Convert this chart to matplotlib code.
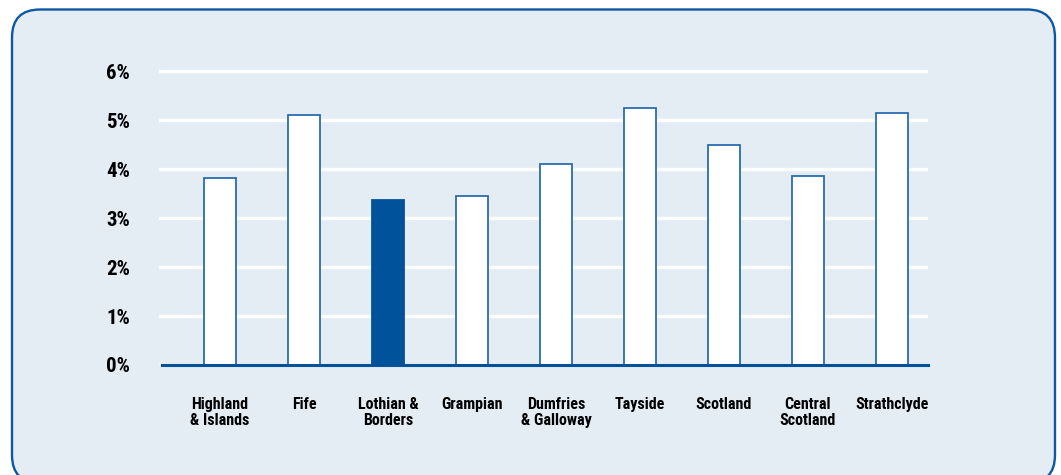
import matplotlib
matplotlib.use("Agg")
import matplotlib.pyplot as plt
from matplotlib.patches import FancyBboxPatch
from matplotlib import font_manager

regions = ["Highland\n& Islands", "Fife", "Lothian &\nBorders", "Grampian",
           "Dumfries\n& Galloway", "Tayside", "Scotland", "Central\nScotland",
           "Strathclyde"]
rates = [3.83, 5.11, 3.37, 3.46, 4.11, 5.26, 4.50, 3.87, 5.15]
highlight = "Lothian &\nBorders"
y_ticks = [0, 1, 2, 3, 4, 5, 6]
y_tick_labels = [f"{v}%" for v in y_ticks]

names = {f.name for f in font_manager.fontManager.ttflist}
family = "DejaVu Sans"
for cand in ["Liberation Sans Narrow", "Roboto Condensed", "Open Sans Condensed",
             "Lato"]:
    if cand in names:
        family = cand
        break
plt.rcParams["font.family"] = [family, "DejaVu Sans"]

BG = "#e4ecf4"
BLUE = "#00529b"
EDGE = "#2a6cb0"

fig = plt.figure(figsize=(10.61, 4.75), dpi=100)
fig.patch.set_facecolor("white")

panel = FancyBboxPatch((0.12, -0.08), 10.43, 4.735,
                       boxstyle="round,pad=0,rounding_size=0.28",
                       transform=fig.dpi_scale_trans, facecolor=BG,
                       edgecolor="#0d58a2", linewidth=1.7, zorder=-10)
fig.add_artist(panel)

ax = fig.add_axes([0.1499, 0.2316, 0.7247, 0.6389])
ax.set_facecolor("none")
ax.set_zorder(1)

x = list(range(len(regions)))
for xi, name, v in zip(x, regions, rates):
    filled = name == highlight
    ax.bar(xi, v, width=0.38, color=BLUE if filled else "white",
           edgecolor=BLUE if filled else EDGE, linewidth=1.3, zorder=3)

ax.set_xlim(-0.726, 8.43)
ax.set_ylim(0, 6.2)
ax.set_yticks(y_ticks)
ax.set_yticklabels(y_tick_labels, fontsize=15, fontweight="bold")
ax.set_xticks(x)
ax.set_xticklabels(regions, fontsize=11.5, fontweight="bold", linespacing=1.12,
                   va="top")
ax.tick_params(axis="y", length=0, pad=21)
ax.tick_params(axis="x", length=0, pad=23)
ax.grid(axis="y", color="white", linewidth=2.4, zorder=1)
ax.set_axisbelow(True)
for s in ["top", "right", "left"]:
    ax.spines[s].set_visible(False)
ax.spines["bottom"].set_color(BLUE)
ax.spines["bottom"].set_linewidth(2.2)
ax.spines["bottom"].set_zorder(4)
ax.spines["bottom"].set_bounds(-0.69, 8.43)

fig.savefig("out.png", dpi=100)
